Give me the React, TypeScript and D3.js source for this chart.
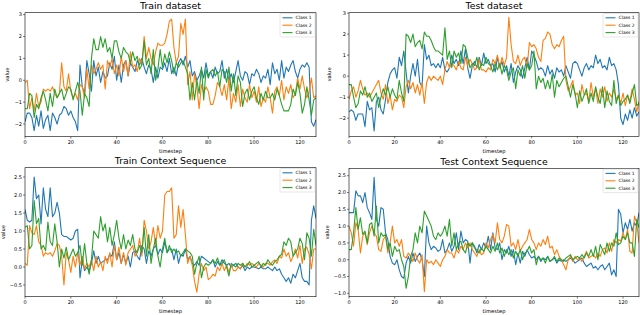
import React from "react";
import * as d3 from "d3";

const classNames = ["Class 1", "Class 2", "Class 3"];
const colors = ["#1f77b4", "#ff7f0e", "#2ca02c"];
const xTicks = [0, 20, 40, 60, 80, 100, 120];

const trainC1 = [-1.9,-1.5,-1.5,-1.7,-2.3,-1.6,-2.1,-1.4,-2.2,-1.8,-1.6,-2.3,-1.5,-1.7,-2.0,-1.6,-1.5,-1.2,-1.3,-1.6,-1.4,-1.7,-1.9,-2.3,0.7,-0.3,-0.6,0.9,0.3,-0.5,0.9,0.2,0.6,-0.1,0.4,0.1,0.2,0.8,0.5,1.1,0.0,0.7,-0.1,0.7,0.9,0.2,0.8,0.6,0.4,0.9,0.7,1.0,0.6,0.3,0.7,0.5,-0.1,0.6,0.1,0.6,0.5,0.8,0.4,1.0,0.3,0.6,0.2,0.8,1.0,0.7,1.1,0.6,0.9,0.2,0.4,0.0,0.2,0.5,0.1,0.8,0.2,0.4,0.1,0.6,0.3,0.4,0.9,0.1,0.5,0.0,0.3,-0.1,0.4,0.9,0.2,0.0,0.4,0.3,-0.2,0.3,0.2,0.5,0.3,-0.1,0.2,0.1,0.5,-0.2,0.8,0.3,0.5,0.0,0.9,0.1,0.6,0.4,0.7,0.9,0.4,0.1,0.5,0.7,0.6,0.8,0.6,-1.9,-2.1,-1.8];
const trainC2 = [-0.1,0.0,-1.3,-0.8,-1.4,-0.6,-1.2,-1.0,-0.4,-0.5,-0.4,-0.5,-0.3,-0.6,-0.8,-0.6,0.8,-0.3,-0.5,0.3,-0.5,-0.8,-0.6,-0.9,-0.2,-0.3,-0.8,0.5,-0.4,0.7,0.3,0.5,0.8,0.5,0.7,-0.4,0.9,0.6,1.0,0.3,0.7,0.2,1.1,0.4,0.9,0.2,1.3,0.6,0.7,0.4,1.0,0.7,2.0,1.0,1.5,1.0,0.7,1.3,1.7,1.6,1.6,1.7,2.1,2.7,2.8,1.5,0.8,1.1,2.6,2.1,2.8,-0.2,0.4,-0.9,0.3,-0.3,-1.3,-0.2,-0.6,-0.3,-0.5,-1.1,-1.1,-0.7,-0.1,-0.3,-0.7,-0.2,-0.9,0.1,-1.3,-0.6,-1.0,-0.2,-1.2,-0.4,-0.8,-1.0,-0.2,-0.8,-0.5,-1.0,-0.3,-1.2,-0.8,-1.0,-0.3,-0.8,-1.5,-0.5,-0.3,-0.7,0.0,-0.9,-0.3,-0.6,-0.2,-0.8,-0.6,0.1,-0.4,0.2,-0.4,-0.8,-0.5,0.1,-0.8,-0.7];
const trainC3 = [-1.3,-1.3,-0.6,-0.7,-1.7,-1.1,-1.3,-0.8,-0.5,-0.9,-1.4,-0.6,-1.2,-0.4,-0.8,-0.6,-0.4,-0.9,-0.6,-0.3,-0.4,-0.9,-0.5,-0.1,-0.5,-1.6,-0.6,-0.8,-1.2,1.0,1.9,1.4,1.4,2.0,1.5,1.9,1.3,1.5,1.0,1.8,1.8,1.3,1.0,1.5,1.3,1.2,0.8,1.3,0.9,1.1,0.5,0.7,1.8,0.7,1.0,0.3,1.4,0.0,0.5,1.4,0.6,1.2,0.8,1.3,0.9,0.3,0.8,0.6,0.8,0.9,0.6,0.3,-0.9,-0.1,-0.9,0.0,-0.6,0.6,-0.9,0.5,0.1,0.4,0.5,0.2,0.4,-0.3,0.5,0.4,-0.1,0.6,-0.5,0.3,-0.7,0.2,-0.1,-1.2,-0.6,-0.4,-0.9,-0.5,-0.3,-0.8,-1.1,-0.6,-0.9,-0.5,-0.8,-0.8,-0.6,-0.9,-0.4,-0.7,-1.1,-1.4,-1.4,-1.4,-1.1,-0.4,-0.7,-0.1,-0.6,-1.5,-1.1,-0.3,-0.9,-1.6,-0.9,-0.8];

const testC1 = [-1.7,-1.6,-1.7,-2.1,-1.8,-1.8,-1.8,-2.4,-1.2,-1.6,-1.5,-2.6,-1.2,-1.0,-1.6,-1.8,-1.1,-0.3,0.1,0.3,0.4,-0.1,0.9,0.5,1.2,0.2,-0.8,0.0,0.6,0.0,0.8,-0.3,-0.5,1.5,0.8,1.0,0.5,0.6,0.4,0.6,0.4,0.9,0.3,0.2,0.4,1.0,0.6,0.8,0.5,1.2,0.6,1.3,0.4,-0.1,0.5,0.7,0.4,0.9,0.5,1.1,0.6,0.8,0.5,0.6,0.2,0.9,0.4,0.7,0.2,0.5,0.0,0.6,-0.3,0.2,0.5,0.3,-0.1,0.4,0.9,0.3,1.2,1.0,0.7,0.3,0.4,0.3,0.0,0.5,0.1,0.3,-0.1,0.4,0.2,0.3,0.0,0.5,0.2,-0.1,0.6,0.7,0.6,0.3,0.0,0.4,0.6,0.3,0.5,0.4,1.0,0.6,0.8,0.4,0.5,0.3,0.9,0.5,0.6,0.3,-0.4,-2.0,-2.3,-1.8,-2.1,-1.6,-2.0,-1.5,-1.9,-1.7];
const testC2 = [-1.1,-0.7,-0.5,-1.0,-0.7,-0.2,-0.6,-0.9,-0.8,-1.0,-0.8,-0.6,-0.4,-0.2,-0.8,-1.1,-0.4,-1.3,-0.9,-1.6,-1.1,-1.2,-0.9,-1.0,-1.5,-0.5,-0.2,-0.6,-0.3,-0.8,-0.4,-0.9,-0.3,-1.3,-0.3,0.0,-0.2,0.0,-0.1,-0.2,0.0,-0.4,0.3,0.7,0.4,0.6,0.5,0.3,0.7,0.4,0.3,0.9,0.5,0.8,0.6,0.3,0.4,0.8,0.3,0.3,0.2,0.4,0.3,0.8,0.6,1.0,0.4,0.9,0.5,0.9,2.8,1.5,0.7,0.6,1.0,0.5,0.8,0.9,0.4,1.6,1.4,1.5,1.3,0.9,0.7,1.7,1.8,2.1,2.0,1.5,1.3,1.5,1.4,1.7,1.9,-0.2,-0.7,-0.5,-0.2,-0.9,-0.8,-1.3,-0.4,-0.9,-0.8,-1.2,-0.3,-1.0,-0.6,-1.3,-0.6,-1.0,-0.5,-1.2,-0.8,-1.0,-0.6,-1.1,-0.9,-1.3,-0.8,-1.4,-0.9,-1.2,-0.6,-1.1,-1.7,-1.2];
const testC3 = [-0.4,-0.4,-1.0,-1.5,-1.3,-0.7,-0.9,-0.5,-1.0,-0.8,-1.2,-1.0,-0.8,-1.5,-1.0,-0.6,-0.9,-0.5,-1.0,-0.6,-0.9,-1.1,-0.2,-0.8,-1.2,2.0,1.9,1.6,2.0,1.4,1.6,1.7,1.3,2.1,1.9,1.9,1.7,1.4,1.2,1.2,1.1,1.0,2.3,0.8,1.2,0.4,1.2,0.9,1.1,0.6,1.5,1.4,0.9,0.4,0.6,0.5,0.9,0.3,0.6,0.5,0.9,0.6,0.5,0.2,0.6,0.3,0.6,0.1,0.5,0.3,-0.2,0.2,0.4,-0.6,0.3,0.0,0.5,-0.1,0.6,0.3,0.5,1.2,-0.6,0.0,-0.3,-0.1,-0.6,-0.2,-0.6,0.1,-1.0,-0.2,-0.5,-0.3,-0.1,0.0,-0.5,-1.0,-0.4,-0.8,-1.5,-0.7,-1.2,-0.9,-0.6,-1.3,-0.8,-1.2,-0.5,-1.0,-1.3,-0.5,-1.5,-0.7,-1.2,-1.4,-0.2,-1.3,-0.9,-1.4,-1.2,-1.1,-0.9,-1.3,-0.8,-0.4,-1.4,-1.3];

const trainCtxC1 = [1.6,1.3,1.25,1.3,2.5,1.9,2.0,1.2,2.2,1.6,1.4,2.2,1.4,1.5,1.8,1.5,0.9,0.85,0.85,0.8,0.75,0.8,1.0,1.05,-0.3,0.2,-0.1,0.0,-0.1,0.1,0.45,0.1,0.3,0.1,0.15,0.2,0.2,0.35,0.3,0.7,0.2,0.4,0.1,0.35,0.1,0.3,0.0,0.4,0.45,0.3,0.2,0.6,0.5,0.1,0.45,0.3,0.5,0.6,0.35,0.5,0.4,0.7,0.4,0.5,0.5,0.2,0.5,0.1,0.35,0.3,0.5,0.2,0.3,0.1,0.05,0.15,0.05,0.3,0.25,0.2,0.15,0.1,0.2,0.0,0.15,0.05,0.2,0.1,0.05,0.1,0.0,0.05,0.1,0.0,-0.05,0.05,-0.1,0.0,-0.05,0.0,0.0,-0.02,-0.05,0.0,-0.05,-0.05,0.0,-0.05,-0.1,0.0,-0.1,-0.05,-0.2,-0.3,-0.4,-0.3,-0.45,-0.2,-0.3,-0.1,0.1,-0.3,-0.4,-0.4,-0.5,1.3,1.7,1.35];
const trainCtxC2 = [0.1,0.05,1.15,0.95,0.9,1.15,0.7,0.6,0.3,0.4,0.35,0.4,0.3,0.45,0.65,0.6,0.3,-0.5,0.4,0.2,-0.15,0.3,0.0,0.4,0.05,0.3,-0.05,0.1,0.0,0.2,-0.1,0.3,0.0,0.15,-0.1,0.3,0.1,0.4,0.0,0.6,0.2,0.55,0.1,0.4,0.05,0.4,0.5,0.6,0.3,0.4,0.8,0.3,1.3,1.0,0.5,0.7,1.1,0.6,1.15,0.8,1.0,2.0,2.1,2.1,2.2,0.8,0.9,1.7,1.1,1.6,0.9,0.1,0.3,0.05,-0.4,-0.7,-0.2,0.1,-0.1,0.0,-0.35,-0.3,-0.2,-0.25,0.0,-0.1,0.1,-0.1,0.05,-0.15,0.05,-0.1,-0.1,0.0,-0.05,0.1,0.0,0.1,0.05,0.1,0.05,0.0,0.1,0.05,0.0,0.1,0.1,0.05,0.15,0.2,0.1,0.3,0.25,0.5,0.3,0.4,0.15,0.3,0.5,0.25,0.6,0.1,0.5,0.55,0.35,-0.05,0.5,0.5];
const trainCtxC3 = [1.1,1.15,0.5,0.6,1.85,1.2,1.35,0.5,0.6,0.45,1.25,0.7,0.6,1.2,0.7,0.0,0.5,0.25,0.55,0.2,0.35,0.5,0.3,0.4,0.6,0.05,0.65,0.1,-0.2,0.2,1.0,0.9,0.8,1.4,1.0,1.2,0.7,1.1,0.6,0.9,1.3,0.8,0.5,0.9,0.5,0.75,0.6,0.9,0.5,0.4,0.6,0.4,1.1,0.3,0.9,0.1,0.5,0.8,0.3,0.0,0.5,0.8,0.4,0.6,0.4,0.5,0.4,0.45,0.3,0.4,0.5,0.45,0.4,0.3,-0.2,0.1,0.3,-0.3,0.0,0.1,0.05,0.1,0.2,0.1,0.25,0.05,0.1,0.2,0.0,-0.25,0.1,0.05,0.0,0.1,0.05,0.1,0.0,0.05,0.15,0.0,0.05,0.1,0.15,0.0,0.1,0.05,0.2,0.1,0.05,0.15,0.2,0.3,0.35,0.7,0.6,0.8,0.7,0.3,0.4,0.5,0.8,0.65,0.2,0.95,0.8,0.3,1.05,0.6];

const testCtxC1 = [1.4,1.4,1.4,2.05,1.9,1.9,1.7,2.0,1.55,1.4,1.2,2.45,1.2,1.0,1.55,1.5,0.8,0.6,0.1,-0.1,-0.15,0.0,-0.3,-0.5,-0.55,-0.1,0.1,-0.1,0.2,-0.05,0.1,0.2,0.0,-0.5,1.0,0.5,0.3,0.4,0.35,0.25,0.3,0.6,0.2,0.3,0.5,0.25,0.4,0.8,0.3,0.85,0.5,0.6,0.55,-0.1,0.5,0.4,0.2,0.45,0.3,0.5,0.35,0.7,0.3,0.8,0.35,0.3,0.5,0.0,0.3,0.2,0.4,0.1,0.3,-0.15,0.2,-0.1,0.25,0.1,0.3,0.15,0.05,0.1,0.0,0.1,-0.05,0.05,0.0,0.1,-0.05,0.0,0.05,-0.1,0.0,-0.05,0.0,-0.05,0.0,0.05,0.0,-0.1,-0.05,0.0,0.05,-0.1,-0.2,-0.15,-0.1,-0.25,-0.2,-0.3,-0.2,-0.15,-0.3,-0.2,-0.1,-0.45,-0.3,-0.5,1.5,1.35,0.8,1.1,0.9,1.2,0.85,1.1,1.0,1.4];
const testCtxC2 = [1.0,0.8,0.4,1.1,0.9,0.2,0.7,0.8,0.45,0.8,1.0,0.8,0.7,0.3,0.25,0.6,0.7,0.2,0.5,1.0,0.5,0.6,0.4,0.6,0.1,0.05,0.2,0.1,-0.05,0.2,0.0,-0.1,0.15,-0.95,0.0,-0.1,-0.05,-0.15,0.0,-0.1,-0.2,0.0,0.1,0.3,0.2,0.2,0.05,0.3,0.2,0.4,0.3,0.5,0.35,0.5,0.3,0.2,0.1,0.3,0.15,0.2,0.5,0.35,0.6,0.75,0.5,1.1,0.6,0.5,0.7,1.05,1.0,0.4,0.5,0.3,0.6,0.25,0.4,0.5,0.6,0.9,0.6,0.5,0.3,0.5,0.4,0.6,0.45,0.7,0.35,0.4,0.15,0.3,0.1,0.0,-0.15,-0.3,0.0,0.1,-0.05,0.1,0.0,0.05,-0.05,0.1,0.25,0.05,0.1,0.15,0.05,0.2,0.1,0.3,0.35,0.2,0.5,0.25,0.6,0.5,0.6,0.55,0.8,0.6,0.9,0.25,0.2,1.3,1.1,0.5];
const testCtxC3 = [0.3,0.3,0.8,1.55,0.9,1.25,0.75,0.85,0.5,1.05,1.1,0.7,1.6,0.5,0.8,0.7,0.75,0.3,0.5,0.1,0.4,0.25,0.3,0.0,-0.2,-0.85,-0.5,0.1,0.3,0.8,0.5,1.0,0.8,1.45,1.3,1.15,1.0,0.7,0.6,0.8,0.7,0.8,1.0,0.7,1.2,0.4,0.8,0.3,0.5,0.55,0.3,0.2,0.5,0.4,0.5,0.35,0.3,0.2,0.35,0.25,0.4,0.3,0.2,0.4,0.25,0.5,0.2,0.35,0.1,0.3,0.15,0.3,0.05,0.25,0.1,0.3,0.0,0.2,0.25,0.4,0.2,0.3,-0.15,0.1,0.0,0.05,-0.1,0.1,-0.05,0.0,0.1,-0.05,0.05,0.0,-0.05,0.05,0.1,0.15,0.0,0.05,0.1,0.05,0.15,0.05,0.2,0.1,0.3,0.1,0.4,0.0,0.45,0.3,0.15,0.5,0.25,0.5,0.4,0.8,0.45,0.5,0.7,0.6,0.8,0.5,0.5,0.1,1.2,0.95];

const yTicksDataset = [-2, -1, 0, 1, 2, 3];
const yTicksTrainCtx = [-0.5, 0, 0.5, 1, 1.5, 2, 2.5];
const yTicksTestCtx = [-1, -0.5, 0, 0.5, 1, 1.5, 2, 2.5];

const FONT = "DejaVu Sans, sans-serif";

type PanelProps = {
  title: string;
  series: number[][];
  left: number; right: number; top: number; bottom: number;
  yDomain: [number, number];
  yTicks: number[];
  decimals: number;
  valueX: number;
};

function fmt(v: number, decimals: number) {
  const s = v.toFixed(decimals);
  return s.replace("-", "\u2212");
}

function Panel(p: PanelProps) {
  const x = d3.scaleLinear().domain([0, 127]).range([p.left, p.right]);
  const y = d3.scaleLinear().domain(p.yDomain).range([p.bottom, p.top]);
  const line = d3.line<number>().x((_, i) => x(i)).y((d) => y(d));
  const clipId = "clip-" + p.title.replace(/\s/g, "");
  const lx = p.right - 36;
  const ly = p.top + 0.8;
  return (
    <g>
      <defs>
        <clipPath id={clipId}>
          <rect x={p.left} y={p.top} width={p.right - p.left} height={p.bottom - p.top} />
        </clipPath>
      </defs>
      <text x={(p.left + p.right) / 2} y={p.top - 3.4} textAnchor="middle" fontSize={9.4} fontFamily={FONT} fill="#000">{p.title}</text>
      <g clipPath={`url(#${clipId})`}>
        {p.series.map((s, k) => (
          <path key={k} d={line(s) || ""} fill="none" stroke={colors[k]} strokeWidth={1.1} strokeLinejoin="round" />
        ))}
      </g>
      <rect x={p.left} y={p.top} width={p.right - p.left} height={p.bottom - p.top} fill="none" stroke="#000" strokeWidth={0.6} />
      {xTicks.map((t) => (
        <g key={"x" + t}>
          <line x1={x(t)} x2={x(t)} y1={p.bottom} y2={p.bottom + 2} stroke="#000" strokeWidth={0.5} />
          <text x={x(t)} y={p.bottom + 7.3} textAnchor="middle" fontSize={5} fontFamily={FONT} fill="#000">{t}</text>
        </g>
      ))}
      {p.yTicks.map((t) => (
        <g key={"y" + t}>
          <line x1={p.left - 2} x2={p.left} y1={y(t)} y2={y(t)} stroke="#000" strokeWidth={0.5} />
          <text x={p.left - 3} y={y(t) + 1.8} textAnchor="end" fontSize={5} fontFamily={FONT} fill="#000">{fmt(t, p.decimals)}</text>
        </g>
      ))}
      <text x={(p.left + p.right) / 2} y={p.bottom + 16.5} textAnchor="middle" fontSize={5.2} fontFamily={FONT} fill="#000">timestep</text>
      <text transform={`translate(${p.valueX},${(p.top + p.bottom) / 2}) rotate(-90)`} textAnchor="middle" fontSize={5.2} fontFamily={FONT} fill="#000">value</text>
      <g>
        <rect x={lx} y={ly} width={35} height={23.5} fill="#fff" fillOpacity={0.8} stroke="#ccc" strokeWidth={0.5} rx={1} />
        {classNames.map((c, k) => (
          <g key={c}>
            <line x1={lx + 2.5} x2={lx + 12.5} y1={ly + 4.3 + k * 7.4} y2={ly + 4.3 + k * 7.4} stroke={colors[k]} strokeWidth={1.1} />
            <text x={lx + 15.5} y={ly + 5.9 + k * 7.4} fontSize={4.5} fontFamily={FONT} fill="#000">{c}</text>
          </g>
        ))}
      </g>
    </g>
  );
}

export default function App() {
  return (
    <svg width={640} height={315} style={{ position: "absolute", left: 0, top: 0, background: "#fff" }}>
      <rect x={0} y={0} width={640} height={315} fill="#fff" />
      <Panel title="Train dataset" series={[trainC1, trainC2, trainC3]} left={25} right={316} top={12.7} bottom={136.7} yDomain={[-2.58, 3.09]} yTicks={yTicksDataset} decimals={0} valueX={8.5} />
      <Panel title="Test dataset" series={[testC1, testC2, testC3]} left={349} right={639} top={12.7} bottom={136.3} yDomain={[-2.86, 3.02]} yTicks={yTicksDataset} decimals={0} valueX={330.5} />
      <Panel title="Train Context Sequence" series={[trainCtxC1, trainCtxC2, trainCtxC3]} left={25} right={316} top={167.7} bottom={296.7} yDomain={[-0.825, 2.76]} yTicks={yTicksTrainCtx} decimals={1} valueX={4.5} />
      <Panel title="Test Context Sequence" series={[testCtxC1, testCtxC2, testCtxC3]} left={349} right={639} top={168.3} bottom={296.7} yDomain={[-1.1, 2.72]} yTicks={yTicksTestCtx} decimals={1} valueX={329} />
    </svg>
  );
}
